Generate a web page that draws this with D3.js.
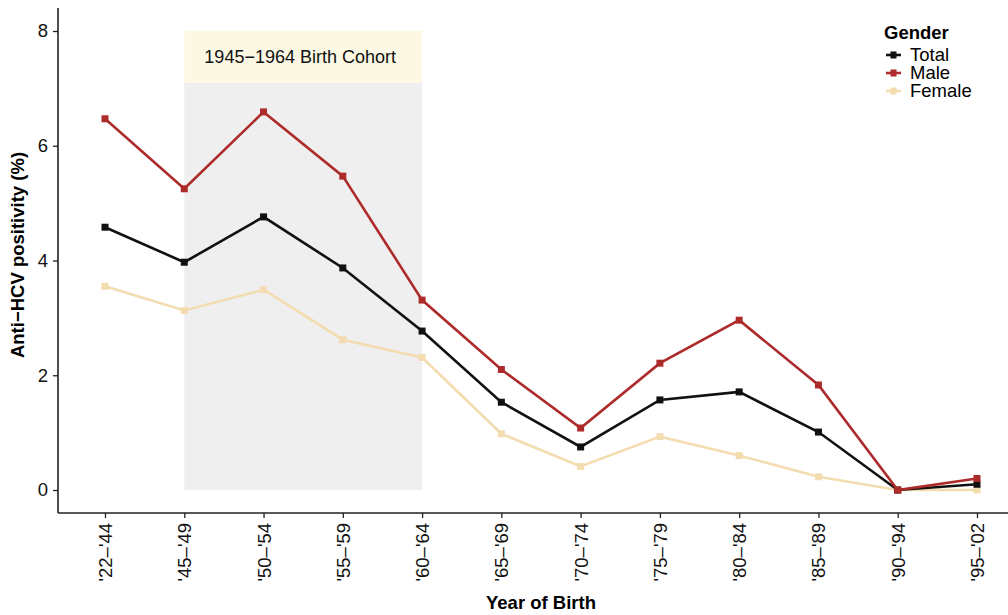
<!DOCTYPE html>
<html>
<head>
<meta charset="utf-8">
<script src="https://cdn.jsdelivr.net/npm/d3@7"></script>
<style>
  body { margin: 0; background: #fff; }
  text { font-family: "Liberation Sans", Arial, sans-serif; }
</style>
</head>
<body>
<div id="chart"></div>
<script>
const cohorts = ["'22\u2013'44", "'45\u2013'49", "'50\u2013'54", "'55\u2013'59", "'60\u2013'64", "'65\u2013'69",
  "'70\u2013'74", "'75\u2013'79", "'80\u2013'84", "'85\u2013'89", "'90\u2013'94", "'95\u2013'02"];
const total = [4.58, 3.97, 4.76, 3.87, 2.77, 1.53, 0.75, 1.57, 1.71, 1.01, 0, 0.1];
const male = [6.47, 5.25, 6.59, 5.47, 3.31, 2.1, 1.08, 2.21, 2.96, 1.83, 0, 0.2];
const female = [3.55, 3.13, 3.49, 2.62, 2.31, 0.98, 0.41, 0.93, 0.6, 0.23, 0, 0];
const yTicks = [0, 2, 4, 6, 8];
const cohortStart = "'45\u2013'49";
const cohortEnd = "'60\u2013'64";
const cohortLabel = '1945\u22121964 Birth Cohort';

const width = 1008;
const height = 615;
const fs = '18.5px';

const svg = d3.select('#chart')
    .append('svg')
    .attr('width', width)
    .attr('height', height);

const x = d3.scalePoint()
    .domain(cohorts)
    .range([105, 977]);

const y = d3.scaleLinear()
    .domain([0, 8])
    .range([490, 31]);

// shaded cohort band
svg.append('rect')
    .attr('x', x(cohortStart))
    .attr('y', y(7.1))
    .attr('width', x(cohortEnd) - x(cohortStart))
    .attr('height', y(0) - y(7.1))
    .style('fill', '#efefef');

svg.append('rect')
    .attr('x', x(cohortStart))
    .attr('y', y(8))
    .attr('width', x(cohortEnd) - x(cohortStart))
    .attr('height', y(7.1) - y(8))
    .style('fill', '#fdf8e4');

svg.append('text')
    .attr('x', (x(cohortStart) + x(cohortEnd)) / 2 - 3)
    .attr('y', y(7.55))
    .attr('dy', '0.35em')
    .attr('text-anchor', 'middle')
    .style('font-size', '18px')
    .style('fill', '#111')
    .text(cohortLabel);

// axes
const yAxis = svg.append('g')
    .attr('transform', 'translate(58,0)')
    .call(d3.axisLeft(y).tickValues(yTicks).tickSize(5).tickPadding(5));
yAxis.select('.domain').attr('d', 'M0,8V513').attr('stroke', '#222').attr('stroke-width', 1.6);

const xAxis = svg.append('g')
    .attr('transform', 'translate(0,513)')
    .call(d3.axisBottom(x).tickSize(5).tickPadding(0));
xAxis.select('.domain').attr('d', 'M58,0H1008').attr('stroke', '#222').attr('stroke-width', 1.6);
xAxis.selectAll('text')
    .attr('transform', 'rotate(-90)')
    .attr('x', -10)
    .attr('y', 0)
    .attr('dy', '0.35em')
    .attr('text-anchor', 'end');

svg.selectAll('.tick line').attr('stroke', '#222').attr('stroke-width', 1.3);
svg.selectAll('.tick text')
    .style('font-size', fs)
    .style('fill', '#111')
    .style('font-family', '"Liberation Sans", Arial, sans-serif');

// axis titles
svg.append('text')
    .attr('transform', 'translate(24,255) rotate(-90)')
    .attr('text-anchor', 'middle')
    .style('font-size', fs)
    .style('font-weight', 'bold')
    .text('Anti\u2212HCV positivity (%)');

svg.append('text')
    .attr('x', 541)
    .attr('y', 609)
    .attr('text-anchor', 'middle')
    .style('font-size', fs)
    .style('font-weight', 'bold')
    .text('Year of Birth');

// series
const series = [
  { name: 'Female', values: female, color: '#f3dcb0' },
  { name: 'Total', values: total, color: '#111111' },
  { name: 'Male', values: male, color: '#ad2b2b' }
];

const line = d3.line()
    .x((d, i) => x(cohorts[i]))
    .y(d => y(d));

series.forEach(s => {
  svg.append('path')
      .datum(s.values)
      .attr('d', line)
      .attr('fill', 'none')
      .attr('stroke', s.color)
      .attr('stroke-width', 2.6);

  svg.append('g')
      .selectAll('rect')
      .data(s.values)
      .join('rect')
      .attr('x', (d, i) => x(cohorts[i]) - 3.5)
      .attr('y', d => y(d) - 3.5)
      .attr('width', 7)
      .attr('height', 7)
      .style('fill', s.color);
});

// legend
const legendOrder = ['Total', 'Male', 'Female'];
const legend = svg.append('g').attr('transform', 'translate(884,0)');
legend.append('text')
    .attr('x', 0)
    .attr('y', 39)
    .style('font-size', fs)
    .style('font-weight', 'bold')
    .text('Gender');

legendOrder.forEach((name, i) => {
  const s = series.find(d => d.name === name);
  const ly = 55 + i * 18;
  legend.append('line')
      .attr('x1', 2)
      .attr('x2', 17)
      .attr('y1', ly)
      .attr('y2', ly)
      .attr('stroke', s.color)
      .attr('stroke-width', 2.6);
  legend.append('rect')
      .attr('x', 6.5)
      .attr('y', ly - 3.5)
      .attr('width', 6)
      .attr('height', 7)
      .style('fill', s.color);
  legend.append('text')
      .attr('x', 26)
      .attr('y', ly)
      .attr('dy', '0.35em')
      .style('font-size', fs)
      .text(name);
});
</script>
</body>
</html>
